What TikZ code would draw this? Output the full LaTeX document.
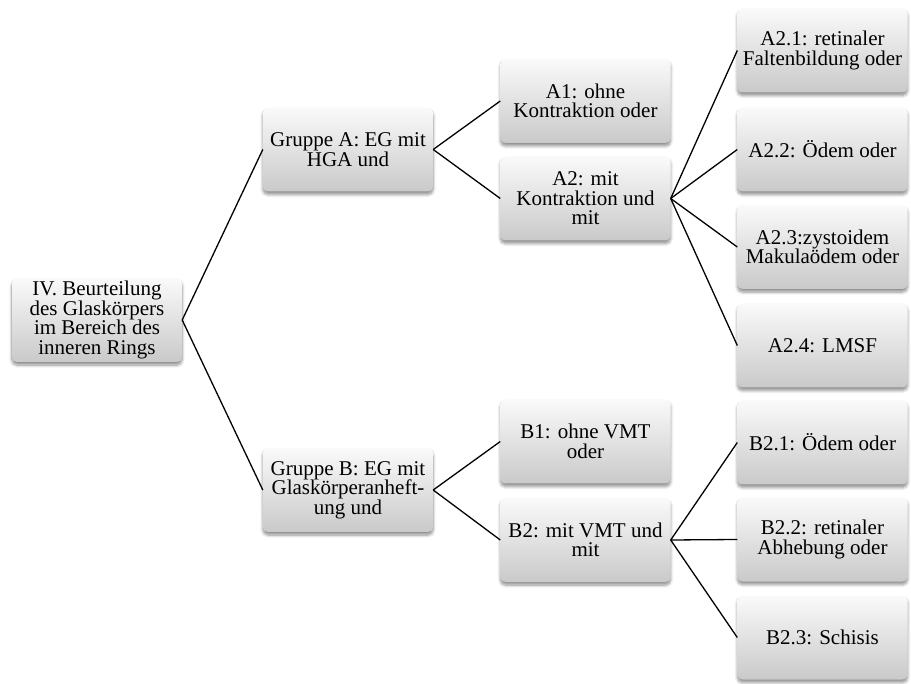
\documentclass[tikz,border=0pt]{standalone}
\usepackage{fontspec}
\setmainfont{Liberation Serif}
\usetikzlibrary{shadows.blur}

\begin{document}
\begin{tikzpicture}[x=1pt,y=-1pt,
  box/.style={rectangle, rounded corners=5pt, draw=none,
    top color=gray!4, middle color=gray!14, bottom color=gray!42,
    blur shadow={shadow xshift=0pt, shadow yshift=-3pt, shadow blur steps=6,
      shadow blur radius=3pt, shadow opacity=45},
    minimum width=170pt, minimum height=84pt, inner sep=0pt,
    align=center, font=\fontsize{21}{19.5}\selectfont},
  link/.style={draw=black, line width=1.3pt}]
  \useasboundingbox (0,0) rectangle (911,684);

  % root
  \node[box] (root) at (97,320) {IV. Beurteilung\\des Glaskörpers\\im Bereich des\\inneren Rings};

  % groups
  \node[box] (ga) at (348,149.5) {Gruppe A: EG mit\\HGA und};
  \node[box] (gb) at (348,490) {Gruppe B: EG mit\\Glaskörperanheft-\\ung und};

  % second level
  \node[box] (a1) at (585.5,101) {A1: ohne\\Kontraktion oder};
  \node[box] (a2) at (585.5,198.5) {A2: mit\\Kontraktion und\\mit};
  \node[box] (b1) at (585.5,441.5) {B1: ohne VMT\\oder};
  \node[box] (b2) at (585.5,540) {B2: mit VMT und\\mit};

  % third level
  \node[box] (a21) at (822.5,50.5) {A2.1: retinaler\\Faltenbildung oder};
  \node[box] (a22) at (822.5,149.5) {A2.2: Ödem oder};
  \node[box] (a23) at (822.5,247) {A2.3:zystoidem\\Makulaödem oder};
  \node[box] (a24) at (822.5,345.5) {A2.4: LMSF};
  \node[box] (b21) at (822.5,442.5) {B2.1: Ödem oder};
  \node[box] (b22) at (822.5,539.5) {B2.2: retinaler\\Abhebung oder};
  \node[box] (b23) at (822.5,637.5) {B2.3: Schisis};

  % connectors
  \draw[link] (root.east) -- (ga.west);
  \draw[link] (root.east) -- (gb.west);
  \draw[link] (ga.east) -- (a1.west);
  \draw[link] (ga.east) -- (a2.west);
  \draw[link] (gb.east) -- (b1.west);
  \draw[link] (gb.east) -- (b2.west);
  \draw[link] (a2.east) -- (a21.west);
  \draw[link] (a2.east) -- (a22.west);
  \draw[link] (a2.east) -- (a23.west);
  \draw[link] (a2.east) -- (a24.west);
  \draw[link] (b2.east) -- (b21.west);
  \draw[link] (b2.east) -- (b22.west);
  \draw[link] (b2.east) -- (b23.west);
\end{tikzpicture}
\end{document}
